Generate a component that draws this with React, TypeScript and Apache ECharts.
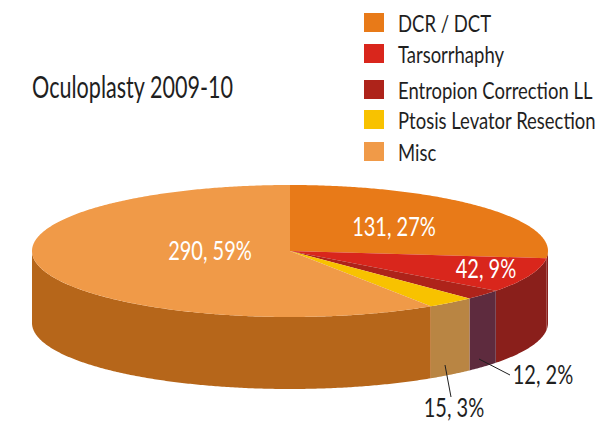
import React, { useEffect, useRef } from "react";
import * as echarts from "echarts";

const categories = ["DCR / DCT", "Tarsorrhaphy", "Entropion Correction LL", "Ptosis Levator Resection", "Misc"];
const values = [131, 42, 12, 15, 290];
const topColors = ["#e87a18", "#d9261c", "#ae231a", "#f8c200", "#f09a48"];
const sideColors = ["#8a1f1b", "#8a1f1b", "#5e2b3e", "#b98543", "#b6661a"];
const legendTops = [13, 44, 80, 110, 142];
const labelPositions = [
  { x: 394, y: 226, fill: "#ffffff" },
  { x: 486, y: 268, fill: "#ffffff" },
  { x: 543, y: 374, fill: "#1f1f1f" },
  { x: 454, y: 407, fill: "#1f1f1f" },
  { x: 210, y: 250, fill: "#ffffff" },
];
const leaders: (number[] | null)[] = [null, null, [479, 359, 510, 375], [445, 365, 451, 397], null];

const CX = 290;
const CY = 251;
const RX = 258;
const RY = 66;
const DEPTH = 72;
const FONT = "Lato, sans-serif";
const SQUEEZE = 0.77;
const TITLE_SQUEEZE = 0.72;

const total = values.reduce((a, b) => a + b, 0);

function pt(deg: number, dy = 0): number[] {
  const r = (deg * Math.PI) / 180;
  return [CX + RX * Math.sin(r), CY - RY * Math.cos(r) + dy];
}

function arc(a: number, b: number, dy = 0): number[][] {
  const out: number[][] = [];
  const n = Math.max(2, Math.ceil((b - a) * 2));
  for (let i = 0; i <= n; i++) out.push(pt(a + ((b - a) * i) / n, dy));
  return out;
}

function makeSeries(index: number) {
  const before = values.slice(0, index).reduce((a, b) => a + b, 0);
  return {
    type: "custom",
    name: categories[index],
    coordinateSystem: "none",
    silent: true,
    itemStyle: { color: topColors[index] },
    data: [[values[index]]],
    renderItem: (_p: unknown, api: any) => {
      const v = api.value(0) as number;
      const a0 = (before / total) * 360;
      const a1 = a0 + (v / total) * 360;
      const children: any[] = [];
      const s0 = Math.max(a0, 90);
      const s1 = Math.min(a1, 270);
      if (s1 > s0) {
        children.push({
          type: "polygon",
          shape: { points: [...arc(s0, s1), ...arc(s0, s1, DEPTH).reverse()] },
          style: { fill: sideColors[index] },
        });
      }
      children.push({
        type: "polygon",
        shape: { points: [[CX, CY], ...arc(a0, a1)] },
        style: { fill: topColors[index] },
      });
      const line = leaders[index];
      if (line) {
        children.push({
          type: "line",
          shape: { x1: line[0], y1: line[1], x2: line[2], y2: line[3] },
          style: { stroke: "#1f1f1f", lineWidth: 1 },
          z2: 10,
        });
      }
      const lp = labelPositions[index];
      children.push({
        type: "text",
        z2: 20,
        x: lp.x,
        y: lp.y,
        scaleX: SQUEEZE,
        style: {
          text: `${v}, ${Math.round((v / total) * 100)}%`,
          x: 0,
          y: 0,
          fill: lp.fill,
          align: "center",
          verticalAlign: "middle",
          fontFamily: FONT,
          fontSize: 26,
        },
      });
      return { type: "group", children };
    },
  };
}

export default function App() {
  const ref = useRef<HTMLDivElement>(null);
  useEffect(() => {
    if (!ref.current) return;
    const chart = echarts.init(ref.current, undefined, { renderer: "svg" });
    const legendItems: any[] = [];
    categories.forEach((name, i) => {
      legendItems.push({
        type: "rect",
        shape: { x: 364, y: legendTops[i], width: 20, height: 19 },
        style: { fill: topColors[i] },
      });
      legendItems.push({
        type: "text",
        x: 398,
        y: legendTops[i] + 10,
        scaleX: SQUEEZE,
        style: {
          text: name,
          x: 0,
          y: 0,
          fill: "#1f1f1f",
          align: "left",
          verticalAlign: "middle",
          fontFamily: FONT,
          fontSize: 24,
        },
      });
    });
    chart.setOption({
      animation: false,
      backgroundColor: "#ffffff",
      graphic: [
        {
          type: "text",
          x: 32,
          y: 87,
          scaleX: TITLE_SQUEEZE,
          style: {
            text: "Oculoplasty 2009-10",
            x: 0,
            y: 0,
            fill: "#1f1f1f",
            align: "left",
            verticalAlign: "middle",
            fontFamily: FONT,
            fontSize: 30,
          },
        },
        ...legendItems,
      ],
      series: values.map((_, i) => makeSeries(i)),
    });
    return () => chart.dispose();
  }, []);
  return <div ref={ref} style={{ position: "fixed", left: 0, top: 0, width: 606, height: 422 }} />;
}
